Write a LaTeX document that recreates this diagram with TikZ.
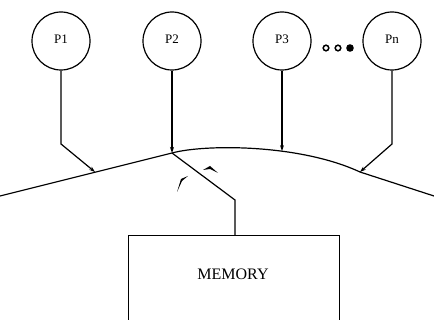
\documentclass[tikz,border=0pt]{standalone}
\usepackage{fontspec}
\setmainfont{Liberation Serif}
\usetikzlibrary{arrows.meta}

\newcommand*{\procy}{41}
\newcommand*{\kneey}{144}

\begin{document}
\begin{tikzpicture}
[
	proc/.style={circle,draw,line width=1.2pt,minimum size=58pt,inner sep=0pt,font=\fontsize{13}{13}\selectfont},
	link/.style={line width=1.2pt,-{Stealth[length=6pt,width=4pt]}},
	wire/.style={line width=1.2pt},
	x=1pt,
	y=-1pt
]
	\useasboundingbox (0,0) rectangle (434,320);

	% processors
	\node[proc] at (61,\procy) (p1) {\raisebox{3pt}{P1}};
	\node[proc] at (172,\procy) (p2) {\raisebox{3pt}{P2}};
	\node[proc] at (282,\procy) (p3) {\raisebox{3pt}{P3}};
	\node[proc] at (392,\procy) (pn) {\raisebox{3pt}{Pn}};

	\foreach \x in {326,338} \draw[line width=1.5pt] (\x,48) circle (2.8pt);
	\fill (350,48) circle (3.8pt);

	% shared bus
	\coordinate (b1) at (95,172);
	\coordinate (b2) at (172,153);
	\coordinate (b4) at (360,172);
	\draw[wire] (0,196) -- (b2) .. controls (205,144) and (300,144) .. coordinate[pos=0.62] (b3) (b4) -- (434,196);

	% processor links
	\coordinate (k1) at (61,\kneey);
	\coordinate (kn) at (392,\kneey);
	\draw[link] (p1) -- (k1) -- (b1);
	\draw[link] (p2) -- (b2);
	\draw[link] (p3) -- (p3 |- b3);
	\draw[link] (pn) -- (kn) -- (b4);

	% memory
	\node[draw,line width=1.2pt,anchor=north west,minimum width=211pt,minimum height=120pt] at (128,235) (memory) {};
	\node[font=\fontsize{16}{16}\selectfont] at (233,274) (memtext) {MEMORY};

	\coordinate (m1) at (235,200);
	\draw[wire] (b2) -- (m1) -- (m1 |- memory.north);

	\fill (177,192) -- (181,179) -- (188,176) -- (182,181) -- cycle;
	\fill (203,170) -- (210,166) -- (218,173) -- (210,169) -- cycle;

\end{tikzpicture}
\end{document}
